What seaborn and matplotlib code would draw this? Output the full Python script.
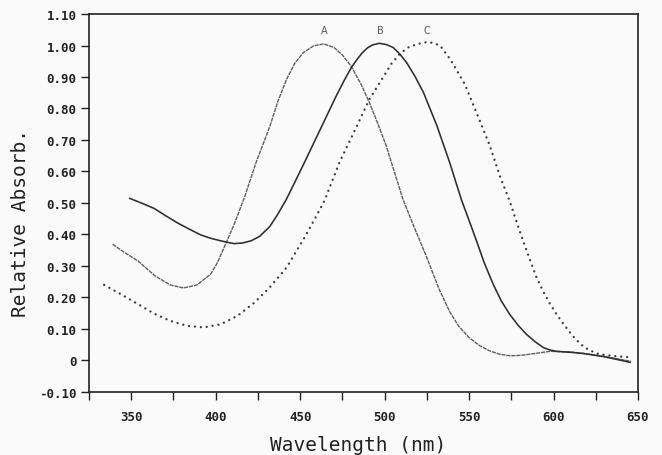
import matplotlib
matplotlib.use("Agg")
import matplotlib.pyplot as plt
import seaborn as sns
import pandas as pd

# ---- data ----
wl_a = [339, 346, 354, 364, 373, 381, 389, 397, 401, 405, 411, 417, 424, 432, 437, 442, 447,
        452, 458, 464, 470, 475, 480, 486, 491, 496, 501, 506, 511, 517, 525, 532, 538.5, 544,
        550, 556, 562, 568, 574, 580, 586, 598, 610, 618, 630, 646]
abs_a = [0.369, 0.343, 0.316, 0.269, 0.240, 0.230, 0.240, 0.274, 0.310, 0.359, 0.433, 0.517,
         0.630, 0.742, 0.825, 0.893, 0.945, 0.978, 0.999, 1.005, 0.994, 0.970, 0.936, 0.878,
         0.819, 0.752, 0.681, 0.595, 0.510, 0.430, 0.327, 0.230, 0.155, 0.108, 0.073, 0.048,
         0.031, 0.020, 0.015, 0.016, 0.020, 0.029, 0.027, 0.022, 0.013, -0.003]

wl_b = [349, 356, 363.5, 370, 377, 384, 391, 397, 403, 407, 411, 416, 421, 426, 432, 436.5,
        441.7, 446.5, 451.6, 461.5, 471.4, 476, 480.3, 484, 487, 490, 493, 497, 501, 505, 509,
        513, 518, 523, 531, 538.5, 545.5, 550, 554.4, 559, 564.3, 569, 574, 579, 584, 589,
        594, 598, 602, 610, 618, 630, 645.5]
abs_b = [0.515, 0.500, 0.483, 0.461, 0.438, 0.418, 0.399, 0.388, 0.380, 0.375, 0.371, 0.373,
         0.380, 0.394, 0.425, 0.462, 0.510, 0.562, 0.618, 0.729, 0.840, 0.888, 0.930, 0.958,
         0.978, 0.993, 1.002, 1.007, 1.003, 0.994, 0.973, 0.946, 0.902, 0.851, 0.745, 0.629,
         0.510, 0.445, 0.380, 0.310, 0.242, 0.190, 0.147, 0.112, 0.083, 0.060, 0.041, 0.033,
         0.029, 0.026, 0.022, 0.012, -0.006]

wl_c = [334, 344, 354, 363.5, 373, 383, 393, 403, 413, 423, 432, 442, 452, 457.5, 464.4,
        473.3, 483.2, 491.1, 499, 504, 509, 514, 519, 525, 529, 533, 539, 547.5, 554.4, 562.3,
        568.2, 574, 578, 582, 586, 590, 594, 598, 602, 606, 611, 616, 621, 627, 636, 645.5]
abs_c = [0.240, 0.210, 0.179, 0.149, 0.126, 0.110, 0.105, 0.115, 0.142, 0.184, 0.232, 0.295,
         0.385, 0.438, 0.507, 0.629, 0.740, 0.830, 0.898, 0.942, 0.973, 0.994, 1.004, 1.011,
         1.008, 0.999, 0.955, 0.877, 0.787, 0.682, 0.586, 0.507, 0.442, 0.380, 0.320, 0.263,
         0.218, 0.179, 0.145, 0.115, 0.080, 0.052, 0.033, 0.020, 0.014, 0.010]

curve_labels = ["A", "B", "C"]
label_wl = [464.4, 497.6, 524.9]
label_y = 1.05

x_major = [350, 400, 450, 500, 550, 600, 650]
x_minor = [325, 375, 425, 475, 525, 575, 625]
y_ticks = [-0.10, 0, 0.10, 0.20, 0.30, 0.40, 0.50, 0.60, 0.70, 0.80, 0.90, 1.00, 1.10]
y_ticklabels = ["-0.10", "0", "0.10", "0.20", "0.30", "0.40", "0.50", "0.60",
                "0.70", "0.80", "0.90", "1.00", "1.10"]

# ---- figure ----
sns.set_style("white")
plt.rcParams["font.family"] = ["DejaVu Sans Mono", "DejaVu Sans"]

fig = plt.figure(figsize=(6.62, 4.56), dpi=100, facecolor="#fafafa")
ax = fig.add_axes([0.1344, 0.1382, 0.8293, 0.8289])
ax.set_facecolor("#fafafa")

df_a = pd.DataFrame({"wl": wl_a, "abs": abs_a})
df_b = pd.DataFrame({"wl": wl_b, "abs": abs_b})
df_c = pd.DataFrame({"wl": wl_c, "abs": abs_c})

sns.lineplot(data=df_a, x="wl", y="abs", ax=ax, sort=False, color="#5e5e5e",
             linewidth=1.0, linestyle=(0, (3.0, 0.6)))
sns.lineplot(data=df_b, x="wl", y="abs", ax=ax, sort=False, color="#2e2e2e",
             linewidth=1.15)
sns.lineplot(data=df_c, x="wl", y="abs", ax=ax, sort=False, color="#3a3a3a",
             linewidth=1.7, linestyle=(0, (0.01, 2.5)))
ax.lines[-1].set_dash_capstyle("round")

for lab, xw in zip(curve_labels, label_wl):
    ax.text(xw, label_y, lab, ha="center", va="center", fontsize=7,
            color="#555555", family=["DejaVu Sans"])

ax.set_xlim(325, 650)
ax.set_ylim(-0.10, 1.10)

ax.set_xticks(x_major)
ax.set_xticklabels([str(v) for v in x_major])
ax.set_xticks(x_minor, minor=True)
ax.set_yticks(y_ticks)
ax.set_yticklabels(y_ticklabels)

ax.tick_params(axis="both", which="both", direction="out", length=6, width=1.0,
               color="#222222", bottom=True, left=True)
ax.tick_params(axis="x", which="major", pad=7, labelsize=9)
ax.tick_params(axis="y", which="major", pad=3, labelsize=9)
for t in ax.get_xticklabels() + ax.get_yticklabels():
    t.set_fontweight("bold")
    t.set_color("#222222")

for s in ax.spines.values():
    s.set_visible(True)
    s.set_color("#222222")
    s.set_linewidth(1.2)

ax.set_xlabel("Wavelength (nm)", fontsize=14, color="#222222")
ax.set_ylabel("Relative Absorb.", fontsize=14, color="#222222")
ax.xaxis.set_label_coords(0.49, -0.115)
ax.yaxis.set_label_coords(-0.108, 0.45)

fig.savefig("out.png", dpi=100, facecolor=fig.get_facecolor())
